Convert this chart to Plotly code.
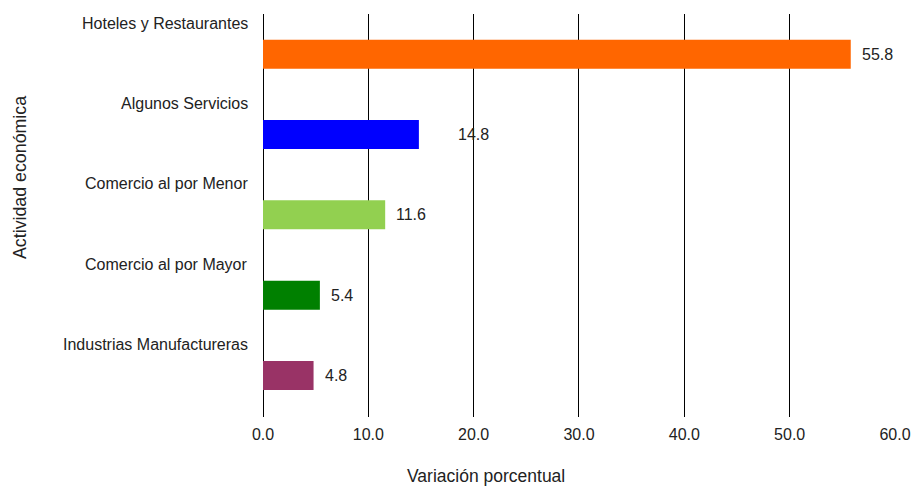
import plotly.graph_objects as go

categories = ["Hoteles y Restaurantes", "Algunos Servicios", "Comercio al por Menor",
              "Comercio al por Mayor", "Industrias Manufactureras"]
values = [55.8, 14.8, 11.6, 5.4, 4.8]
colors = ["#FF6600", "#0000FF", "#92D050", "#008000", "#993366"]
tick_vals = [0, 10, 20, 30, 40, 50, 60]
tick_text = ["0.0", "10.0", "20.0", "30.0", "40.0", "50.0", "60.0"]
x_title = "Variación porcentual"
y_title = "Actividad económica"

# pixel offsets of the value labels from the bar ends (as drawn in the reference)
label_shift = [9, 37, 9, 9, 9]

FONT = "Liberation Sans, Arial, sans-serif"
TXT = "#222222"

W, H = 912, 487
L, R, T, B = 263, 17, 14, 70
PW, PH = W - L - R, H - T - B

fig = go.Figure()
fig.add_trace(go.Bar(
    y=categories, x=values, orientation="h",
    marker=dict(color=colors, line=dict(width=0)),
    hoverinfo="skip", showlegend=False,
))

annotations = []
for cat, v, s in zip(categories, values, label_shift):
    annotations.append(dict(
        x=v, y=cat, xref="x", yref="y", text=f"{v:.1f}", showarrow=False,
        xanchor="left", yanchor="middle", xshift=s,
        font=dict(family=FONT, size=16, color=TXT)))
    annotations.append(dict(
        x=0, y=cat, xref="x", yref="y", text=cat, showarrow=False,
        xanchor="right", yanchor="middle", xshift=-13, yshift=31,
        font=dict(family=FONT, size=16, color=TXT)))

annotations.append(dict(
    x=(20 - L) / PW, y=1 - (178 - T) / PH, xref="paper", yref="paper",
    text=y_title, showarrow=False, textangle=-90, xanchor="center", yanchor="middle",
    font=dict(family=FONT, size=17.8, color=TXT)))
annotations.append(dict(
    x=(486 - L) / PW, y=-(476 - (T + PH)) / PH, xref="paper", yref="paper",
    text=x_title, showarrow=False, xanchor="center", yanchor="middle",
    font=dict(family=FONT, size=17.5, color=TXT)))

fig.update_layout(
    width=W, height=H,
    margin=dict(l=L, r=R, t=T, b=B, autoexpand=False),
    paper_bgcolor="white", plot_bgcolor="white",
    bargap=0.64,
    annotations=annotations,
    xaxis=dict(range=[0, 60.001], tickvals=tick_vals, ticktext=tick_text,
               automargin=False, ticklabelstandoff=6,
               showgrid=True, gridcolor="#000000", gridwidth=1,
               zeroline=True, zerolinecolor="#000000", zerolinewidth=1,
               showline=False, ticks="", ticklen=0, ticklabeloverflow="allow",
               tickfont=dict(family=FONT, size=16, color=TXT)),
    yaxis=dict(autorange="reversed", showticklabels=False, showgrid=False,
               automargin=False,
               zeroline=False, showline=False, ticks=""),
)

fig.write_html(
    "out.html",
    config={"displayModeBar": False},
    post_script="document.body.style.margin='0';document.body.style.overflow='hidden';",
)
